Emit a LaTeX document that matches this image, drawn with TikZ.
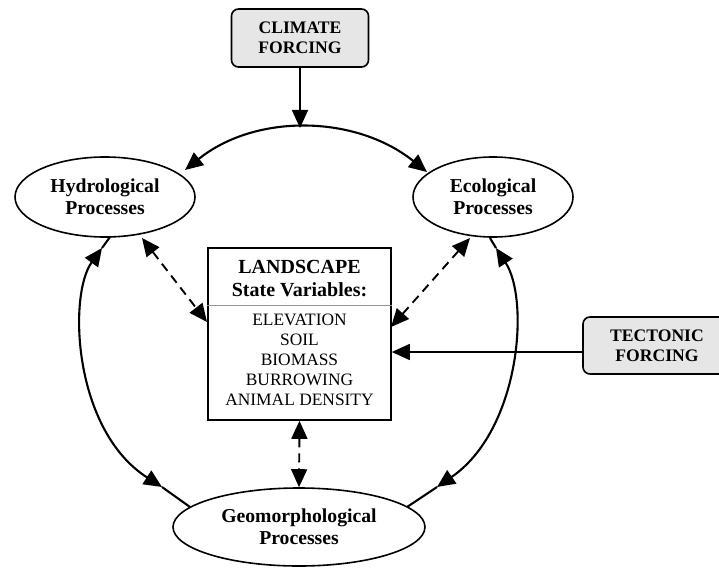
\documentclass[tikz,border=0pt]{standalone}
\usepackage{fontspec}
\setmainfont{Liberation Serif}
\usetikzlibrary{arrows.meta,shapes.geometric}
\definecolor{forcefill}{RGB}{230,230,230}
\definecolor{divgray}{RGB}{150,150,150}
\begin{document}
\begin{tikzpicture}[x=1pt,y=-1pt,
  >={Triangle[length=18pt,width=16pt]},
  proc/.style={draw,ellipse,line width=1.6pt,inner sep=0pt,align=center,
    font=\bfseries\fontsize{19.7}{22.5}\selectfont},
  forcebox/.style={draw,rounded corners=7pt,fill=forcefill,line width=1.6pt,
    align=center,inner sep=0pt,font=\bfseries\fontsize{17.6}{20}\selectfont},
  statebox/.style={draw,line width=1.6pt,inner sep=0pt},
  titletext/.style={anchor=base,inner sep=0pt,font=\bfseries\fontsize{20}{23}\selectfont},
  itemtext/.style={anchor=base,inner sep=0pt,font=\fontsize{17.4}{20}\selectfont},
  arcline/.style={line width=2.1pt},
  solidarrow/.style={->,line width=1.7pt},
  dashline/.style={<->,line width=1.9pt,dash pattern=on 9pt off 6pt}
]
\useasboundingbox (0,0) rectangle (719,567);

% forcing boxes
\node[forcebox, minimum width=137pt, minimum height=58pt] (climate) at (300,38) {CLIMATE\\FORCING};
\node[forcebox, minimum width=148pt, minimum height=57pt] (tectonic) at (657,345.5) {TECTONIC\\FORCING};

% process ellipses
\node[proc, minimum width=180pt, minimum height=80pt] (hyd) at (105,197) {Hydrological\\Processes};
\node[proc, minimum width=160pt, minimum height=80pt] (eco) at (493,197) {Ecological\\Processes};
\node[proc, minimum width=252pt, minimum height=78pt] (geo) at (299,527) {Geomorphological\\Processes};

% landscape box
\node[statebox, minimum width=183pt, minimum height=172pt] (land) at (299.5,334) {};
\draw[divgray, line width=0.7pt] ([yshift=-58pt]land.north west) -- ([yshift=-58pt]land.north east);
\node[titletext] (lt1) at (299.5,273) {LANDSCAPE};
\node[titletext] (lt2) at (299.5,296) {State Variables:};
\node[itemtext] (li1) at (299.5,325) {ELEVATION};
\node[itemtext] (li2) at (299.5,345) {SOIL};
\node[itemtext] (li3) at (299.5,365) {BIOMASS};
\node[itemtext] (li4) at (299.5,385) {BURROWING};
\node[itemtext] (li5) at (299.5,405) {ANIMAL DENSITY};

% coordinates for arcs
\coordinate (ctop) at (300,128);
\coordinate (a1) at (185,170);
\coordinate (a2) at (427,172);
\coordinate (l1) at (102,248);
\coordinate (l2) at (162,487);
\coordinate (lh) at (110,237);
\coordinate (lg) at (190,507);
\coordinate (r1) at (496,248);
\coordinate (r2) at (437,487);
\coordinate (rh) at (490,238);
\coordinate (rg) at (407,507);
\coordinate (dl1) at (142,238);
\coordinate (dl2) at (207,322);
\coordinate (dr1) at (470,238);
\coordinate (dr2) at (391,327);

% big cycle arcs
\draw[<->, arcline] (a1) .. controls (256,113) and (356,115) .. (a2);
\draw[<->, arcline] (l1) .. controls (68,295) and (73,430) .. (l2);
\draw[arcline] (l1) -- (lh);
\draw[arcline] (l2) -- (lg);
\draw[<->, arcline] (r1) .. controls (530,300) and (520,430) .. (r2);
\draw[arcline] (r1) -- (rh);
\draw[arcline] (r2) -- (rg);

% forcing arrows
\draw[solidarrow] (climate.south) -- (ctop);
\draw[solidarrow] ([yshift=-6.5pt]tectonic.west) -- (land.east |- 0,352);

% dashed interactions
\draw[dashline] (dl1) -- (dl2);
\draw[dashline] (dr1) -- (dr2);
\draw[dashline] (land.south) -- (geo.north);
\end{tikzpicture}
\end{document}
